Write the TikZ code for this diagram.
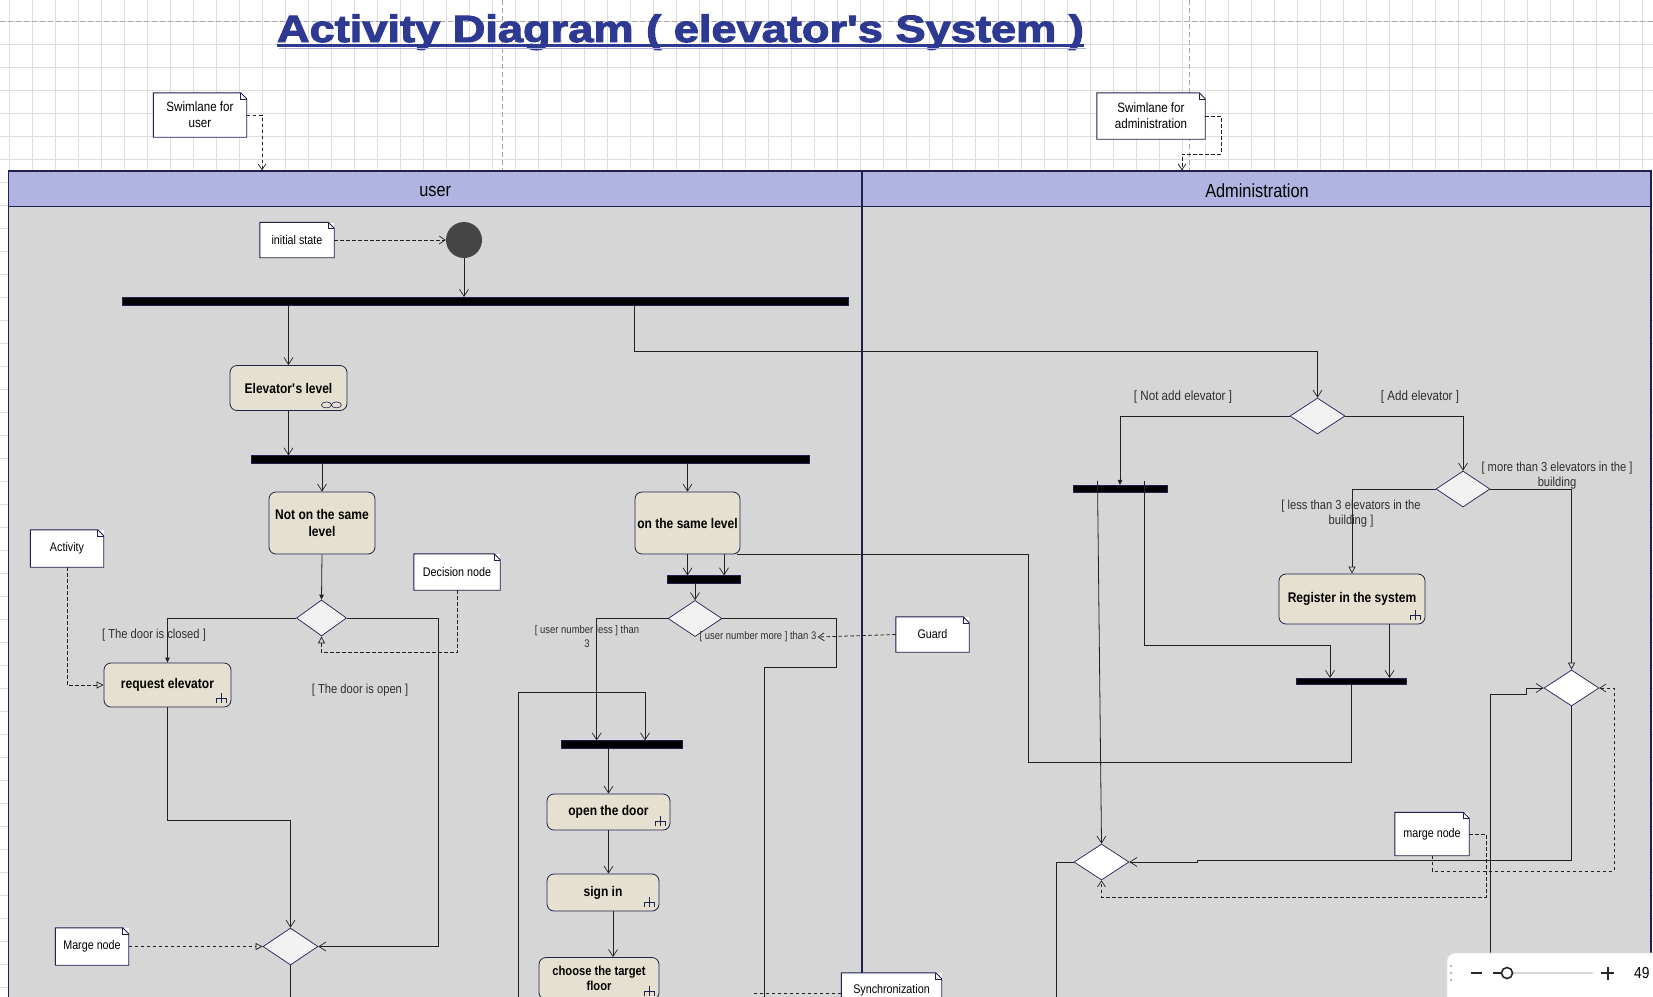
\documentclass[tikz,border=0pt]{standalone}
\usepackage{graphicx}
\usepackage{fontspec}
\setmainfont{Liberation Sans}[FakeStretch=0.86]
\newfontfamily\titlefont{Liberation Sans}[BoldFeatures={FakeBold=2.5}]
\usetikzlibrary{arrows.meta,shapes.geometric,calc}
\definecolor{navy}{HTML}{1E2050}
\definecolor{hdr}{HTML}{B1B3E0}
\definecolor{lanebg}{HTML}{D6D6D6}
\definecolor{actfill}{HTML}{E6E0D0}
\definecolor{titleblue}{HTML}{2E3A92}
\definecolor{gridc}{HTML}{DDDDDD}
\definecolor{linec}{HTML}{222222}
\definecolor{labc}{HTML}{2F2F2F}
\newcommand\foldit[1]{%
  \draw[navy,line width=0.9pt] (#1.south west) -- (#1.north west) -- ([xshift=-6pt]#1.north east) -- ([yshift=-6pt]#1.north east) -- (#1.south east) -- cycle;
  \draw[navy,line width=0.5pt] ([xshift=-6pt]#1.north east) -- ([xshift=-6pt,yshift=-6pt]#1.north east) -- ([yshift=-6pt]#1.north east);}
\newcommand\rakeicon[1]{%
  \draw[navy,line width=0.6pt] (#1.south east) ++(-10,-14) -- ++(0,10)
    (#1.south east) ++(-15,-4) -- ++(0,-5) -- ++(10,0) -- ++(0,5);}
\begin{document}
\begin{tikzpicture}[x=1pt,y=-1pt,
  act/.style={draw=navy, fill=actfill, rounded corners=7pt, line width=0.8pt, align=center, inner sep=1pt, font=\fontsize{14}{17}\selectfont\bfseries},
  bar/.style={fill=black, draw=navy, line width=0.6pt, inner sep=0pt, minimum height=7.5pt},
  dec/.style={diamond, draw=navy, fill=white!95!black, inner sep=0pt, line width=0.7pt, minimum width=54pt, minimum height=36pt},
  notebox/.style={fill=white, inner sep=0pt, align=center, font=\fontsize{12.5}{15}\selectfont},
  glabel/.style={text=labc, align=center, inner sep=0pt, font=\fontsize{13}{15}\selectfont},
  lanehdr/.style={fill=hdr, draw=navy, line width=1.2pt, minimum height=35.6pt, inner sep=0pt},
  lanetext/.style={inner sep=0pt, font=\fontsize{19}{20}\selectfont},
  conn/.style={draw=linec, line width=0.8pt},
  flow/.style={conn, -{Straight Barb[length=7pt,width=9pt,line width=0.7pt]}},
  flowf/.style={conn, -{Triangle[length=5pt,width=4.5pt]}},
  flowo/.style={conn, -{Triangle[open,length=7pt,width=7pt,line width=0.7pt]}},
  dnote/.style={conn, dash pattern=on 3.5pt off 2.5pt},
  dflow/.style={dnote, -{Straight Barb[length=6pt,width=8pt,line width=0.7pt]}},
  dflowo/.style={dnote, -{Triangle[open,length=7pt,width=7pt,line width=0.7pt]}},
]
\useasboundingbox (0,0) rectangle (1653,996);
\clip (0,0) rectangle (1653,996);
\fill[white] (0,0) rectangle (1653,996);
% grid
\foreach \gx in {9.7,32.7,...,1660} \draw[gridc,line width=0.9pt] (\gx,0) -- (\gx,996);
\foreach \gy in {21.3,44.3,...,1000} \draw[gridc,line width=0.9pt] (0,\gy) -- (1653,\gy);
\draw[black!35,dash pattern=on 5pt off 3pt,line width=0.8pt] (0,21) -- (1653,21) (502,0) -- (502,171) (1189,0) -- (1189,171);

% title
\node[anchor=base, text=titleblue, inner sep=0pt] (title) at (680.5,42)
  {\resizebox{807pt}{\height}{\titlefont\fontsize{38}{40}\selectfont\bfseries Activity Diagram ( elevator\textquotesingle s System )}};
\draw[hdr, line width=1.6pt] ([xshift=2pt,yshift=-6.5pt]title.base west) -- ([xshift=2pt,yshift=-6.5pt]title.base east);
\draw[titleblue, line width=2.6pt] ([yshift=-3.5pt]title.base west) -- ([yshift=-3.5pt]title.base east);

% swimlanes
\fill[lanebg] (8.4,206.6) rectangle (1651,1000);
\node[lanehdr, minimum width=853.6pt] (hdrU) at (435.2,188.8) {};
\node[lanehdr, minimum width=789pt] (hdrA) at (1256.5,188.8) {};
\node[lanetext] (hdrUt) at (435.2,191.5) {user};
\node[lanetext] (hdrAt) at (1257,190.5) {Administration};
\draw[navy,line width=1.2pt] (8.4,1000) -- (8.4,171) -- (1651,171) -- (1651,1000) (862,206) -- (862,1000);

% notes
\node[notebox, minimum width=93pt, minimum height=44pt, font=\fontsize{13.5}{16}\selectfont] (swU) at (200,115) {Swimlane for\\user}; \foldit{swU}
\node[notebox, minimum width=108pt, minimum height=46pt, font=\fontsize{13.5}{16}\selectfont] (swA) at (1151,116) {Swimlane for\\administration}; \foldit{swA}
\node[notebox, minimum width=74pt, minimum height=35pt] (initNote) at (297,240) {initial state}; \foldit{initNote}
\node[notebox, minimum width=73pt, minimum height=37pt] (actNote) at (67,548.5) {Activity}; \foldit{actNote}
\node[notebox, minimum width=86pt, minimum height=36pt] (decNote) at (457,572) {Decision node}; \foldit{decNote}
\node[notebox, minimum width=73pt, minimum height=37pt] (mNote1) at (92,946.5) {Marge node}; \foldit{mNote1}
\node[notebox, minimum width=73pt, minimum height=35pt] (guardN) at (932.5,634.5) {Guard}; \foldit{guardN}
\node[notebox, minimum width=100pt, minimum height=34pt] (sync) at (891.5,990) {Synchronization}; \foldit{sync}
\node[notebox, minimum width=74pt, minimum height=43pt] (mNote2) at (1432,834) {marge node}; \foldit{mNote2}

% user lane nodes
\node[circle, fill=black!73, minimum size=36pt, inner sep=0pt] (init) at (464,240) {};
\node[bar, minimum width=726pt, minimum height=8.5pt] (bar1) at (485,301.5) {};
\node[act, minimum width=117pt, minimum height=45pt] (elev) at (288.5,388) {Elevator\textquotesingle s level};
\draw[navy,line width=0.6pt] ([xshift=-21pt,yshift=6pt]elev.south east) ellipse (5 and 3) ([xshift=-11pt,yshift=6pt]elev.south east) ellipse (5 and 3);
\node[bar, minimum width=558pt] (bar2) at (530,459.5) {};
\node[act, minimum width=106pt, minimum height=62pt] (notSame) at (322,523) {Not on the same\\level};
\node[act, minimum width=105pt, minimum height=62pt] (same) at (687.5,523) {on the same level};
\node[dec, minimum width=50pt] (dec1) at (321.5,618) {};
\node[act, minimum width=127pt, minimum height=44pt] (req) at (167.5,685) {request elevator}; \rakeicon{req}
\node[dec, minimum width=55pt, minimum height=37pt] (merge1) at (290.5,946.5) {};
\node[bar, minimum width=73pt] (bar3) at (704,579.5) {};
\node[dec] (dec2) at (695,618.5) {};
\node[bar, minimum width=121pt] (bar4) at (622,744.5) {};
\node[act, minimum width=123pt, minimum height=36pt] (open) at (608.5,812) {open the door}; \rakeicon{open}
\node[act, minimum width=112pt, minimum height=37pt] (signin) at (603,892.5) {sign in}; \rakeicon{signin}
\node[act, minimum width=120pt, minimum height=42pt, font=\fontsize{13}{15}\selectfont\bfseries] (choose) at (599,978.5) {choose the target\\floor}; \rakeicon{choose}

% admin lane nodes
\node[dec, minimum width=55pt] (decA) at (1317.5,416) {};
\node[bar, minimum width=94pt] (bar5) at (1120,489) {};
\node[dec] (decB) at (1463,489) {};
\node[act, minimum width=146pt, minimum height=50pt] (reg) at (1352,599) {Register in the system}; \rakeicon{reg}
\node[bar, minimum width=110pt, minimum height=6.5pt] (bar6) at (1351.5,681.5) {};
\node[dec, minimum width=55pt, fill=white] (decC) at (1571.5,688) {};
\node[dec, minimum width=55pt, fill=white] (decD) at (1101.5,862) {};

% guard labels
\node[glabel] (gClosed) at (154,635) {[ The door is closed ]};
\node[glabel] (gOpen) at (360,690) {[ The door is open ]};
\node[glabel, font=\fontsize{11}{14}\selectfont] (gLess) at (587,637) {[ user number less ] than\\3};
\node[glabel, font=\fontsize{11}{14}\selectfont] (gMore) at (758,637) {[ user number more ] than 3};
\node[glabel, font=\fontsize{13.5}{15}\selectfont] (gNot) at (1183,397) {[ Not add elevator ]};
\node[glabel, font=\fontsize{13.5}{15}\selectfont] (gAdd) at (1420,397) {[ Add elevator ]};
\node[glabel] (gMore3) at (1557,475.5) {[ more than 3 elevators in the ]\\building};
\node[glabel] (gLess3) at (1351,513.5) {[ less than 3 elevators in the\\building ]};

% user lane flows
\draw[flow] (init.south) -- (init.south |- bar1.north);
\draw[flow] (bar1.south -| elev.north) -- (elev.north);
\coordinate (kA) at (634.6,351.5);
\draw[flow] (bar1.south -| kA) -- (kA) -| (decA.north);
\draw[flow] (elev.south) -- (elev.south |- bar2.north);
\draw[flow] (bar2.south -| notSame.north) -- (notSame.north);
\draw[flow] (bar2.south -| same.north) -- (same.north);
\draw[flowf] (notSame.south) -- (dec1.north);
\draw[flowf] (dec1.west) -| (req.north);
\coordinate (kB) at (438.5,946.5);
\draw[flow] (dec1.east) -| (kB) -- (merge1.east);
\draw[flow] (req.south) -- ++(0,113) -| (merge1.north);
\draw[conn] (merge1.south) -- ++(0,40);
\draw[flow] (same.south) -- (same.south |- bar3.north);
\coordinate (s2) at ([xshift=36.5pt]same.south);
\draw[flow] (s2) -- (s2 |- bar3.north);
\draw[flow] (bar3.south -| dec2.north) -- (dec2.north);
\coordinate (kC) at (596.7,618.5);
\draw[flow] (dec2.west) -- (kC) -- (kC |- bar4.north);
\coordinate (kD) at (645,692.6);
\draw[flow] (518.7,1000) |- (kD) -- (kD |- bar4.north);
\draw[conn] (dec2.east) -| (836,667.5) -| (764,1000);
\draw[flow] (bar4.south -| open.north) -- (open.north);
\draw[flow] (open.south) -- (open.south |- signin.north);
\coordinate (s3) at ([xshift=10pt]signin.south);
\draw[flow] (s3) -- (s3 |- choose.north);
\coordinate (s4) at ([xshift=-3pt]same.south east);
\coordinate (kE) at (1028,762);
\draw[conn] (s4) -| (kE) -| (bar6.south);

% admin lane flows
\draw[flowf] (decA.west) -| (bar5.north);
\draw[flow] (decA.east) -| (decB.north);
\draw[flowo] (decB.west) -| (reg.north);
\draw[flowo] (decB.east) -| (decC.north);
\coordinate (r1) at ([xshift=37.5pt]reg.south);
\draw[flow] (r1) -- (r1 |- bar6.north);
\coordinate (b5a) at ([xshift=24pt,yshift=4pt]bar5.north);
\coordinate (kF) at (1330,645);
\draw[flow] (b5a) |- (kF) -- (kF |- bar6.north);
\coordinate (b5b) at ([xshift=-22.5pt,yshift=4pt]bar5.north);
\draw[flow] (b5b) -- (decD.north);
\draw[flow] (decC.south) |- (1197.6,860) -- (1197.6,862) -- (decD.east);
\draw[conn] (decD.west) -| (1056,1000);
\coordinate (kG) at (1526,694);
\draw[flow] (1490.6,1000) |- (kG) |- (decC.west);

% note links
\coordinate (kH) at (262,0);
\draw[dflow] (swU.east) -| (kH |- hdrU.north);
\coordinate (kI) at (1221,154);
\coordinate (kJ) at (1182,0);
\draw[dflow] (swA.east) -| (kI) -| (kJ |- hdrA.north);
\draw[dflow] (initNote.east) -- (init.west);
\draw[dflowo] (actNote.south) |- (req.west);
\draw[dflowo] (decNote.south) -- ++(0,62.5) -| (dec1.south);
\draw[dflowo] (mNote1.east) -- (merge1.west);
\draw[dflow] (guardN.west) -- ([xshift=1pt]gMore.east);
\coordinate (kK) at (754,0);
\draw[dnote] ([yshift=-3pt]sync.west) -- ([yshift=-3pt]sync.west -| kK);
\draw[dflow] (mNote2.east) -| (1486,897) -| (decD.south);
\draw[dflow] (mNote2.south) |- (1614,871) |- (decC.east);

% zoom widget
\draw[black!12, fill=white, rounded corners=8pt, line width=0.8pt] (1447,953) rectangle (1680,1020);
\fill[black!30] (1451,966) circle (1.3) (1451,973) circle (1.3) (1451,980) circle (1.3);
\draw[black!85, line width=2pt] (1471,973) -- (1482,973);
\draw[black!15, line width=2pt] (1493,973) -- (1593,973);
\draw[black!85, line width=2pt] (1493,973) -- (1502,973);
\draw[black!85, fill=white, line width=1.6pt] (1507,973) circle (5.5);
\draw[black!85, line width=2pt] (1601,973) -- (1614,973) (1607.5,966.5) -- (1607.5,979.5);
\node[anchor=west, inner sep=0pt, font=\fontsize{16}{16}\selectfont] (zoomval) at (1634,973) {49};
\end{tikzpicture}
\end{document}
